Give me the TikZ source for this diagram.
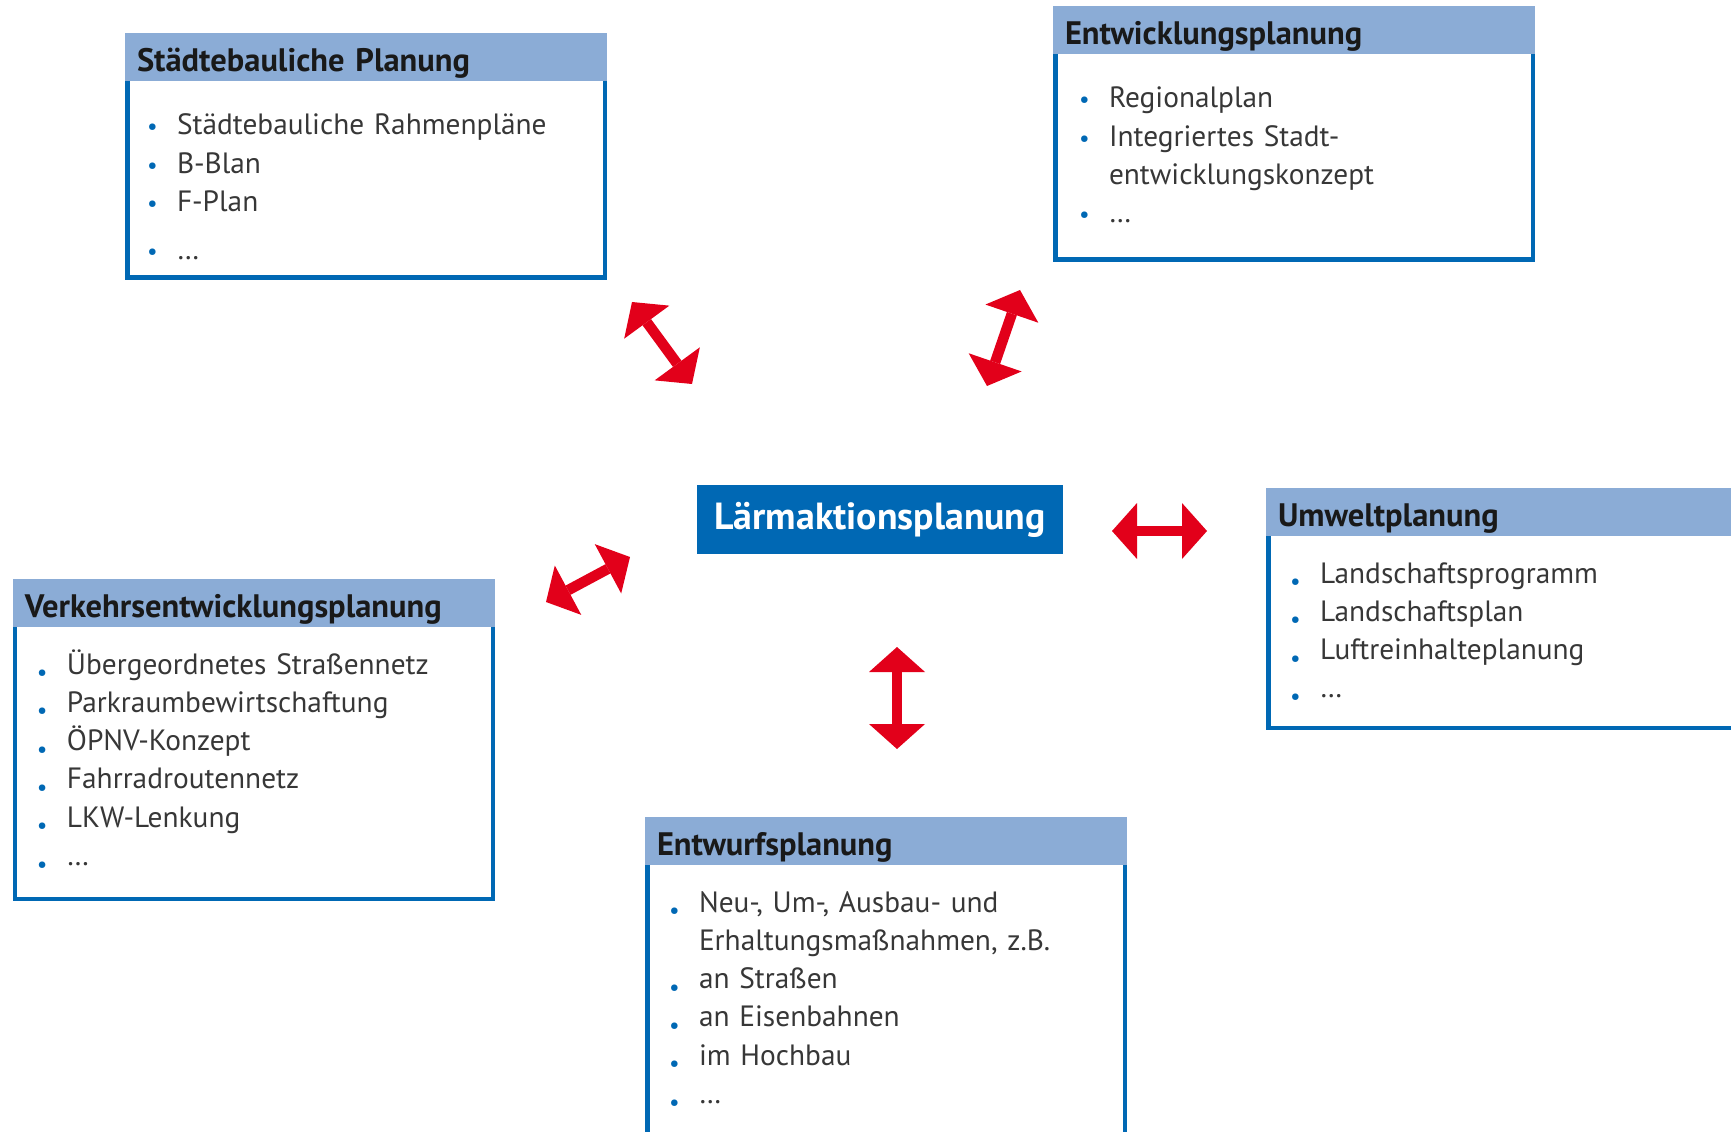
\documentclass[tikz,border=0pt]{standalone}
\usepackage{fontspec}
\setmainfont{PT Sans}
\setsansfont{PT Sans}
\usepackage{graphicx}
\usetikzlibrary{positioning}
\usetikzlibrary{arrows.meta}

\definecolor{hdrblue}{RGB}{139,172,214}
\definecolor{frameblue}{RGB}{0,104,180}
\definecolor{arrowred}{RGB}{226,0,26}
\definecolor{bodytext}{RGB}{55,55,55}

\newcommand{\blt}{\makebox[0.60cm][l]{\textcolor{frameblue}{\scalebox{0.8}{\textbullet}}}}
\newcommand{\bltlow}{\makebox[0.60cm][l]{\textcolor{frameblue}{\raisebox{-0.22em}{\scalebox{0.8}{\textbullet}}}}}
\newcommand{\cnt}{\hspace*{0.60cm}}

\begin{document}
\begin{tikzpicture}[font=\sffamily,
	hdr/.style={anchor=north west,minimum width=9.64cm,minimum height=0.96cm,outer sep=0pt,inner xsep=0.24cm,fill=hdrblue,text=black!90,text height=16.3pt,text depth=0pt,align=left,text width=9.16cm,font=\sffamily\bfseries\fontsize{18.5}{22}\selectfont},
	lst/.style={anchor=base west,inner sep=0pt,outer sep=0pt,text width=8.8cm,align=left,text=bodytext,font=\sffamily\fontsize{16.7}{21.8}\selectfont},
	frame/.style={draw=frameblue,line width=0.09cm},
	laerm/.style={minimum width=7.32cm,minimum height=1.38cm,outer sep=0pt,fill=frameblue,text=white,font=\sffamily\bfseries\fontsize{21.5}{25}\selectfont},
	dblarrow/.style={draw=arrowred,line width=0.21cm,arrows={Triangle[width=1.12cm,length=0.5cm,line width=0pt]-Triangle[width=1.12cm,length=0.5cm,line width=0pt]}}]
	\useasboundingbox (0,0) rectangle (34.62,-22.64);
	\clip (0,0) rectangle (34.62,-22.64);

	% Staedtebauliche Planung
	\node [hdr] at (2.50,-0.66) (staedte) {Städtebauliche Planung};
	\coordinate (staedte_bot) at (12.095,-5.555);
	\draw[frame] ([xshift=.045cm]staedte.south west) |- (staedte_bot) -- (staedte_bot |- staedte.south);
	\node [lst,xshift=0.44cm,yshift=-1.08cm] at (staedte.south west) (staedte_lst) {\blt Städtebauliche Rahmenpläne\\ \blt B-Blan\\ \blt F-Plan\\[0.2cm] \blt \dots};

	% Entwicklungsplanung
	\node [hdr] at (21.06,-0.12) (entw) {Entwicklungsplanung};
	\coordinate (entw_bot) at (30.655,-5.195);
	\draw[frame] ([xshift=.045cm]entw.south west) |- (entw_bot) -- (entw_bot |- entw.south);
	\node [lst,xshift=0.52cm,yshift=-1.08cm] at (entw.south west) (entw_lst) {\blt Regionalplan\\ \blt Integriertes Stadt-\\ \cnt entwicklungskonzept\\ \blt \dots};

	% Umweltplanung
	\node [hdr,minimum width=10cm,text width=9.52cm] at (25.32,-9.76) (umwelt) {Umweltplanung};
	\coordinate (umwelt_bot) at (35.275,-14.555);
	\draw[frame] ([xshift=.045cm]umwelt.south west) |- (umwelt_bot) -- (umwelt_bot |- umwelt.south);
	\node [lst,xshift=0.48cm,yshift=-0.94cm] at (umwelt.south west) (umwelt_lst) {\bltlow Landschaftsprogramm\\ \bltlow Landschaftsplan\\ \bltlow Luftreinhalteplanung\\ \bltlow \dots};

	% Verkehrsentwicklungsplanung
	\node [hdr] at (0.26,-11.58) (verkehr) {Verkehrsentwicklungsplanung};
	\coordinate (verkehr_bot) at (9.855,-17.975);
	\draw[frame] ([xshift=.045cm]verkehr.south west) |- (verkehr_bot) -- (verkehr_bot |- verkehr.south);
	\node [lst,xshift=0.48cm,yshift=-0.94cm] at (verkehr.south west) (verkehr_lst) {\bltlow Übergeordnetes Straßennetz\\ \bltlow Parkraumbewirtschaftung\\ \bltlow ÖPNV-Konzept\\ \bltlow Fahrradroutennetz\\ \bltlow LKW-Lenkung\\ \bltlow \dots};

	% Entwurfsplanung
	\node [hdr] at (12.90,-16.34) (entwurf) {Entwurfsplanung};
	\coordinate (entwurf_bot) at (22.495,-23.5);
	\draw[frame] ([xshift=.045cm]entwurf.south west) |- (entwurf_bot) -- (entwurf_bot |- entwurf.south);
	\node [lst,xshift=0.48cm,yshift=-0.94cm] at (entwurf.south west) (entwurf_lst) {\bltlow Neu-, Um-, Ausbau- und\\ \cnt Erhaltungsmaßnahmen, z.B.\\ \bltlow an Straßen\\ \bltlow an Eisenbahnen\\ \bltlow im Hochbau\\ \bltlow \dots};

	% Laermaktionsplanung
	\node [laerm] at (17.60,-10.39) (laerm) {Lärmaktionsplanung};

	% Doppelpfeile
	\coordinate (arr_st_0) at (12.64,-6.04);
	\coordinate (arr_st_1) at (13.84,-7.68);
	\coordinate (arr_ew_0) at (20.40,-5.80);
	\coordinate (arr_ew_1) at (19.74,-7.72);
	\coordinate (arr_vk_0) at (12.60,-11.14);
	\coordinate (arr_vk_1) at (10.92,-12.04);
	\coordinate (arr_uw_0) at (22.24,-10.62);
	\coordinate (arr_uw_1) at (24.14,-10.62);
	\coordinate (arr_ef_0) at (17.94,-12.94);
	\coordinate (arr_ef_1) at (17.94,-14.98);
	\draw[dblarrow] (arr_st_0) -- (arr_st_1);
	\draw[dblarrow] (arr_ew_0) -- (arr_ew_1);
	\draw[dblarrow] (arr_vk_0) -- (arr_vk_1);
	\draw[dblarrow] (arr_uw_0) -- (arr_uw_1);
	\draw[dblarrow] (arr_ef_0) -- (arr_ef_1);
\end{tikzpicture}
\end{document}
